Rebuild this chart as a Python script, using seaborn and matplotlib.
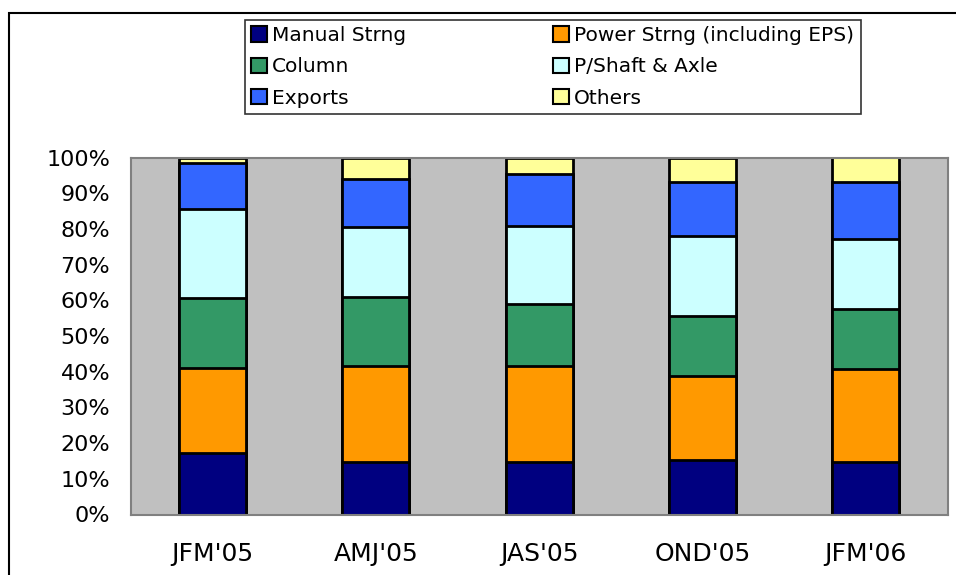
import matplotlib
matplotlib.use("Agg")
import matplotlib.pyplot as plt
from matplotlib.patches import Patch, Rectangle
import seaborn as sns
import numpy as np
import pandas as pd

# Quarters and segment shares (%)
quarters = ["JFM'05", "AMJ'05", "JAS'05", "OND'05", "JFM'06"]
manual = [17.2, 14.7, 14.7, 15.4, 14.7]
power = [23.9, 26.8, 27.0, 23.4, 26.1]
column = [19.5, 19.4, 17.4, 16.7, 16.8]
pshaft = [25.0, 19.7, 21.6, 22.6, 19.6]
exports = [12.9, 13.5, 14.6, 15.0, 16.0]
others = [1.5, 5.9, 4.7, 6.9, 6.8]

series_names = ["Manual Strng", "Power Strng (including EPS)", "Column",
                "P/Shaft & Axle", "Exports", "Others"]
series_colors = ["#000080", "#FF9900", "#339966", "#CCFFFF", "#3366FF", "#FFFF99"]

df = pd.DataFrame({
    "Quarter": quarters,
    "Manual Strng": manual,
    "Power Strng (including EPS)": power,
    "Column": column,
    "P/Shaft & Axle": pshaft,
    "Exports": exports,
    "Others": others,
})

# normalise to 100% and cumulate for stacking
vals = df[series_names]
vals = vals.div(vals.sum(axis=1), axis=0) * 100
cum = vals.cumsum(axis=1)

sns.set_style("white")
plt.rcParams["font.family"] = ["DejaVu Sans"]
plt.rcParams["text.color"] = "black"
plt.rcParams["xtick.color"] = "black"
plt.rcParams["ytick.color"] = "black"

fig = plt.figure(figsize=(9.56, 5.75), dpi=100)
ax = fig.add_axes([131 / 956, 60.5 / 575, 816.5 / 956, 357 / 575])
ax.set_facecolor("#C0C0C0")

# draw tallest first so shorter stacks sit on top
for name, color in reversed(list(zip(series_names, series_colors))):
    sns.barplot(x=df["Quarter"], y=cum[name], color=color, saturation=1,
                width=0.41, edgecolor="black", linewidth=2, ax=ax)

ax.set_ylim(0, 100)
ax.set_xlim(-0.5, len(quarters) - 0.5)
ax.set_yticks(np.arange(0, 101, 10))
ax.set_yticklabels([f"{v}%" for v in range(0, 101, 10)], fontsize=16)
ax.tick_params(axis="y", direction="out", length=9, width=1, color="#333333",
               pad=6, labelcolor="black")
ax.tick_params(axis="x", which="major", length=0, labelsize=18, pad=20,
               labelcolor="black")
ax.set_xticks(np.arange(-0.5, len(quarters), 1), minor=True)
ax.tick_params(axis="x", which="minor", direction="out", length=8, width=1, color="#333333")
ax.set_xlabel("")
ax.set_ylabel("")
ax.grid(False)
for sp in ax.spines.values():
    sp.set_visible(True)
    sp.set_color("#808080")
    sp.set_linewidth(1.5)

# legend filled row by row, like the original
order = [0, 2, 4, 1, 3, 5]
handles = [Patch(facecolor=series_colors[i], edgecolor="black", linewidth=1.5) for i in order]
labels = [series_names[i] for i in order]
leg = fig.legend(handles, labels, ncol=2, loc="upper left",
                 bbox_to_anchor=(245 / 956, 1 - 19.5 / 575), fontsize=14.5,
                 frameon=True, fancybox=False, handlelength=0.78, handleheight=0.78,
                 handletextpad=0.25, columnspacing=7.3, labelspacing=0.62,
                 borderpad=0.32, borderaxespad=0)
leg.get_frame().set_edgecolor("black")
leg.get_frame().set_linewidth(1.2)
for t in leg.get_texts():
    t.set_color("black")

# outer chart border (extends past the right and bottom edges)
fig.patches.append(Rectangle((9 / 956, -0.1), 1.5, 1 - 13 / 575 + 0.1,
                             transform=fig.transFigure, fill=False,
                             edgecolor="black", linewidth=1.5))

fig.savefig("out.png", dpi=100)
